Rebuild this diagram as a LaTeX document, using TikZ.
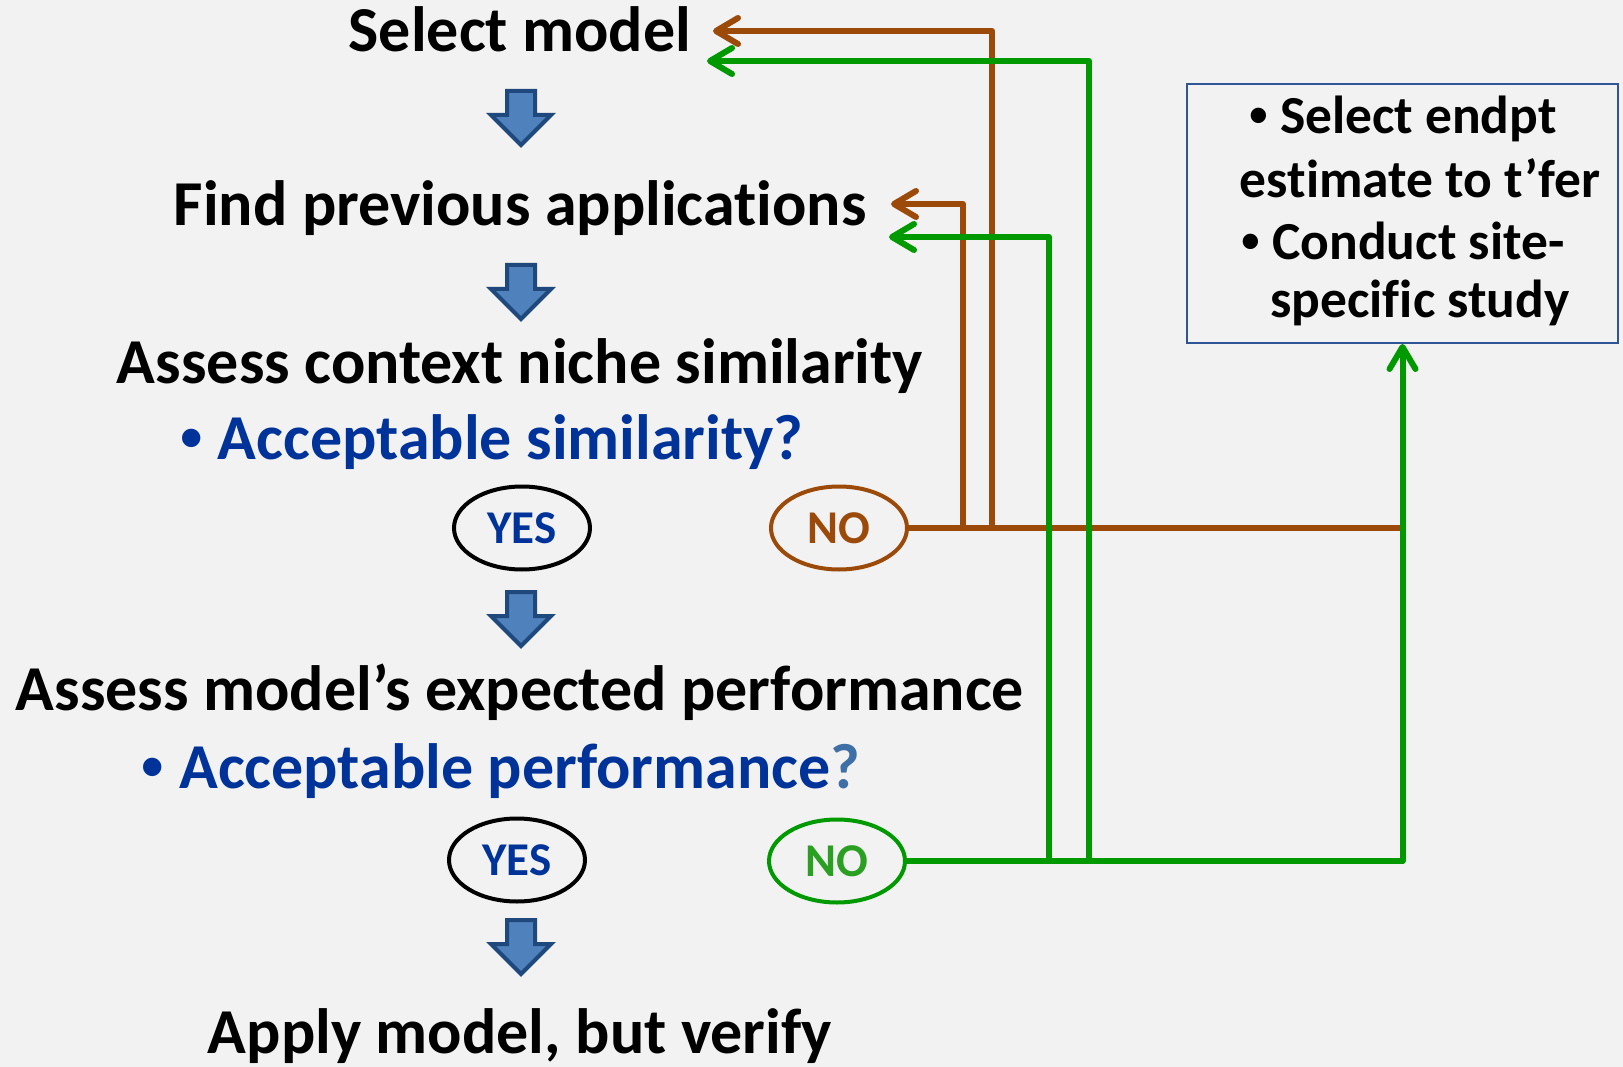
\documentclass[tikz,border=0pt]{standalone}
\usepackage{fontspec}
\setmainfont{Carlito}[Ligatures=NoCommon]
\newfontfamily\dotfont{Liberation Sans}
\usetikzlibrary{arrows.meta,shapes.geometric}

\definecolor{bg}{HTML}{F2F2F2}
\definecolor{brownline}{HTML}{9C4A0A}
\definecolor{greenline}{HTML}{009A00}
\definecolor{greentext}{HTML}{2A9F22}
\definecolor{bluetext}{HTML}{003399}
\definecolor{qblue}{HTML}{3E6FA6}
\definecolor{arrowfill}{HTML}{4F81BD}
\definecolor{arrowedge}{HTML}{1F497D}
\definecolor{boxedge}{HTML}{2F5597}

% small list bullet followed by a fixed gap
\newcommand{\itemdot}[1]{{\dotfont\bfseries •}\hspace{#1}}

\begin{document}
\begin{tikzpicture}[x=1pt,y=-1pt,
  steptext/.style={font=\fontsize{64}{76}\selectfont\bfseries, inner sep=0pt, anchor=base},
  asktext/.style={steptext, text=bluetext},
  boxtext/.style={font=\fontsize{53.5}{62}\selectfont\bfseries, inner sep=0pt, anchor=base},
  oval/.style={ellipse, draw, line width=4pt, minimum width=136pt, minimum height=83pt,
    inner sep=0pt, font=\fontsize{47}{56}\selectfont\bfseries},
  loop/.style={line width=6pt, line join=round,
    -{Straight Barb[length=22pt,width=26pt,round]}},
  bloop/.style={loop, draw=brownline},
  gloop/.style={loop, draw=greenline},
  downarrow/.pic={
    \draw[fill=arrowfill, draw=arrowedge, line width=4pt, line join=miter]
      (-14,-27) -- (14,-27) -- (14,-3) -- (30,-3) -- (0,27)
      -- (-30,-3) -- (-14,-3) -- cycle;
  }
]
\useasboundingbox[fill=bg] (0,0) rectangle (1623,1067);

% main chain of steps
\node[steptext] (sel)   at (520,52)  {Select model};
\node[steptext] (find)  at (520,226) {Find previous applications};
\node[steptext] (ctx)   at (520,383) {Assess context niche similarity};
\node[asktext]  (simq)  at (492,459) {\itemdot{15pt}Acceptable similarity?};
\node[steptext] (perf)  at (520,710) {Assess model’s expected performance};
\node[asktext]  (perfq) at (501,788) {\itemdot{15pt}Acceptable performance\textcolor{qblue}{?}};
\node[steptext] (apply) at (520,1053) {Apply model, but verify};

\pic at (521,118) {downarrow};
\pic at (521,292) {downarrow};
\pic at (521,619) {downarrow};
\pic at (521,947) {downarrow};

% decision ovals
\node[oval, draw=black, text=bluetext]        (yes1) at (522,528) {YES};
\node[oval, draw=brownline, text=brownline]   (no1)  at (839,528) {NO};
\node[oval, draw=black, text=bluetext]        (yes2) at (517,860) {YES};
\node[oval, draw=greenline, text=greentext]   (no2)  at (837,861) {NO};

% fallback box
\node[draw=boxedge, line width=2pt, minimum width=431pt, minimum height=259pt,
      inner sep=0pt] (box) at (1402.5,213.5) {};
\node[boxtext] (bx1) at (1403,134) {\itemdot{12pt}Select endpt};
\node[boxtext] (bx2) at (1420,198) {estimate to t’fer};
\node[boxtext] (bx3) at (1403,260) {\itemdot{12pt}Conduct site-};
\node[boxtext] (bx4) at (1420,318) {specific study};

% return points beside the step labels
\coordinate (selB)  at (713,31);
\coordinate (selG)  at (707,61);
\coordinate (findB) at (891,204);
\coordinate (findG) at (889,237);
\coordinate (bx)  at (963,0);
\coordinate (bxx) at (992,0);
\coordinate (gx)  at (1049,0);
\coordinate (gxx) at (1089,0);

% "no" on similarity
\draw[draw=brownline, line width=6pt] (no1.east) -- (box.south |- no1.east);
\draw[bloop] (bx |- no1.east) -- (bx |- findB) -- (findB);
\draw[bloop] (bxx |- no1.east) -- (bxx |- selB) -- (selB);

% "no" on performance
\draw[gloop] (no2.east) -- (box.south |- no2.east) -- (box.south);
\draw[gloop] (gx |- no2.east) -- (gx |- findG) -- (findG);
\draw[gloop] (gxx |- no2.east) -- (gxx |- selG) -- (selG);
\end{tikzpicture}
\end{document}
